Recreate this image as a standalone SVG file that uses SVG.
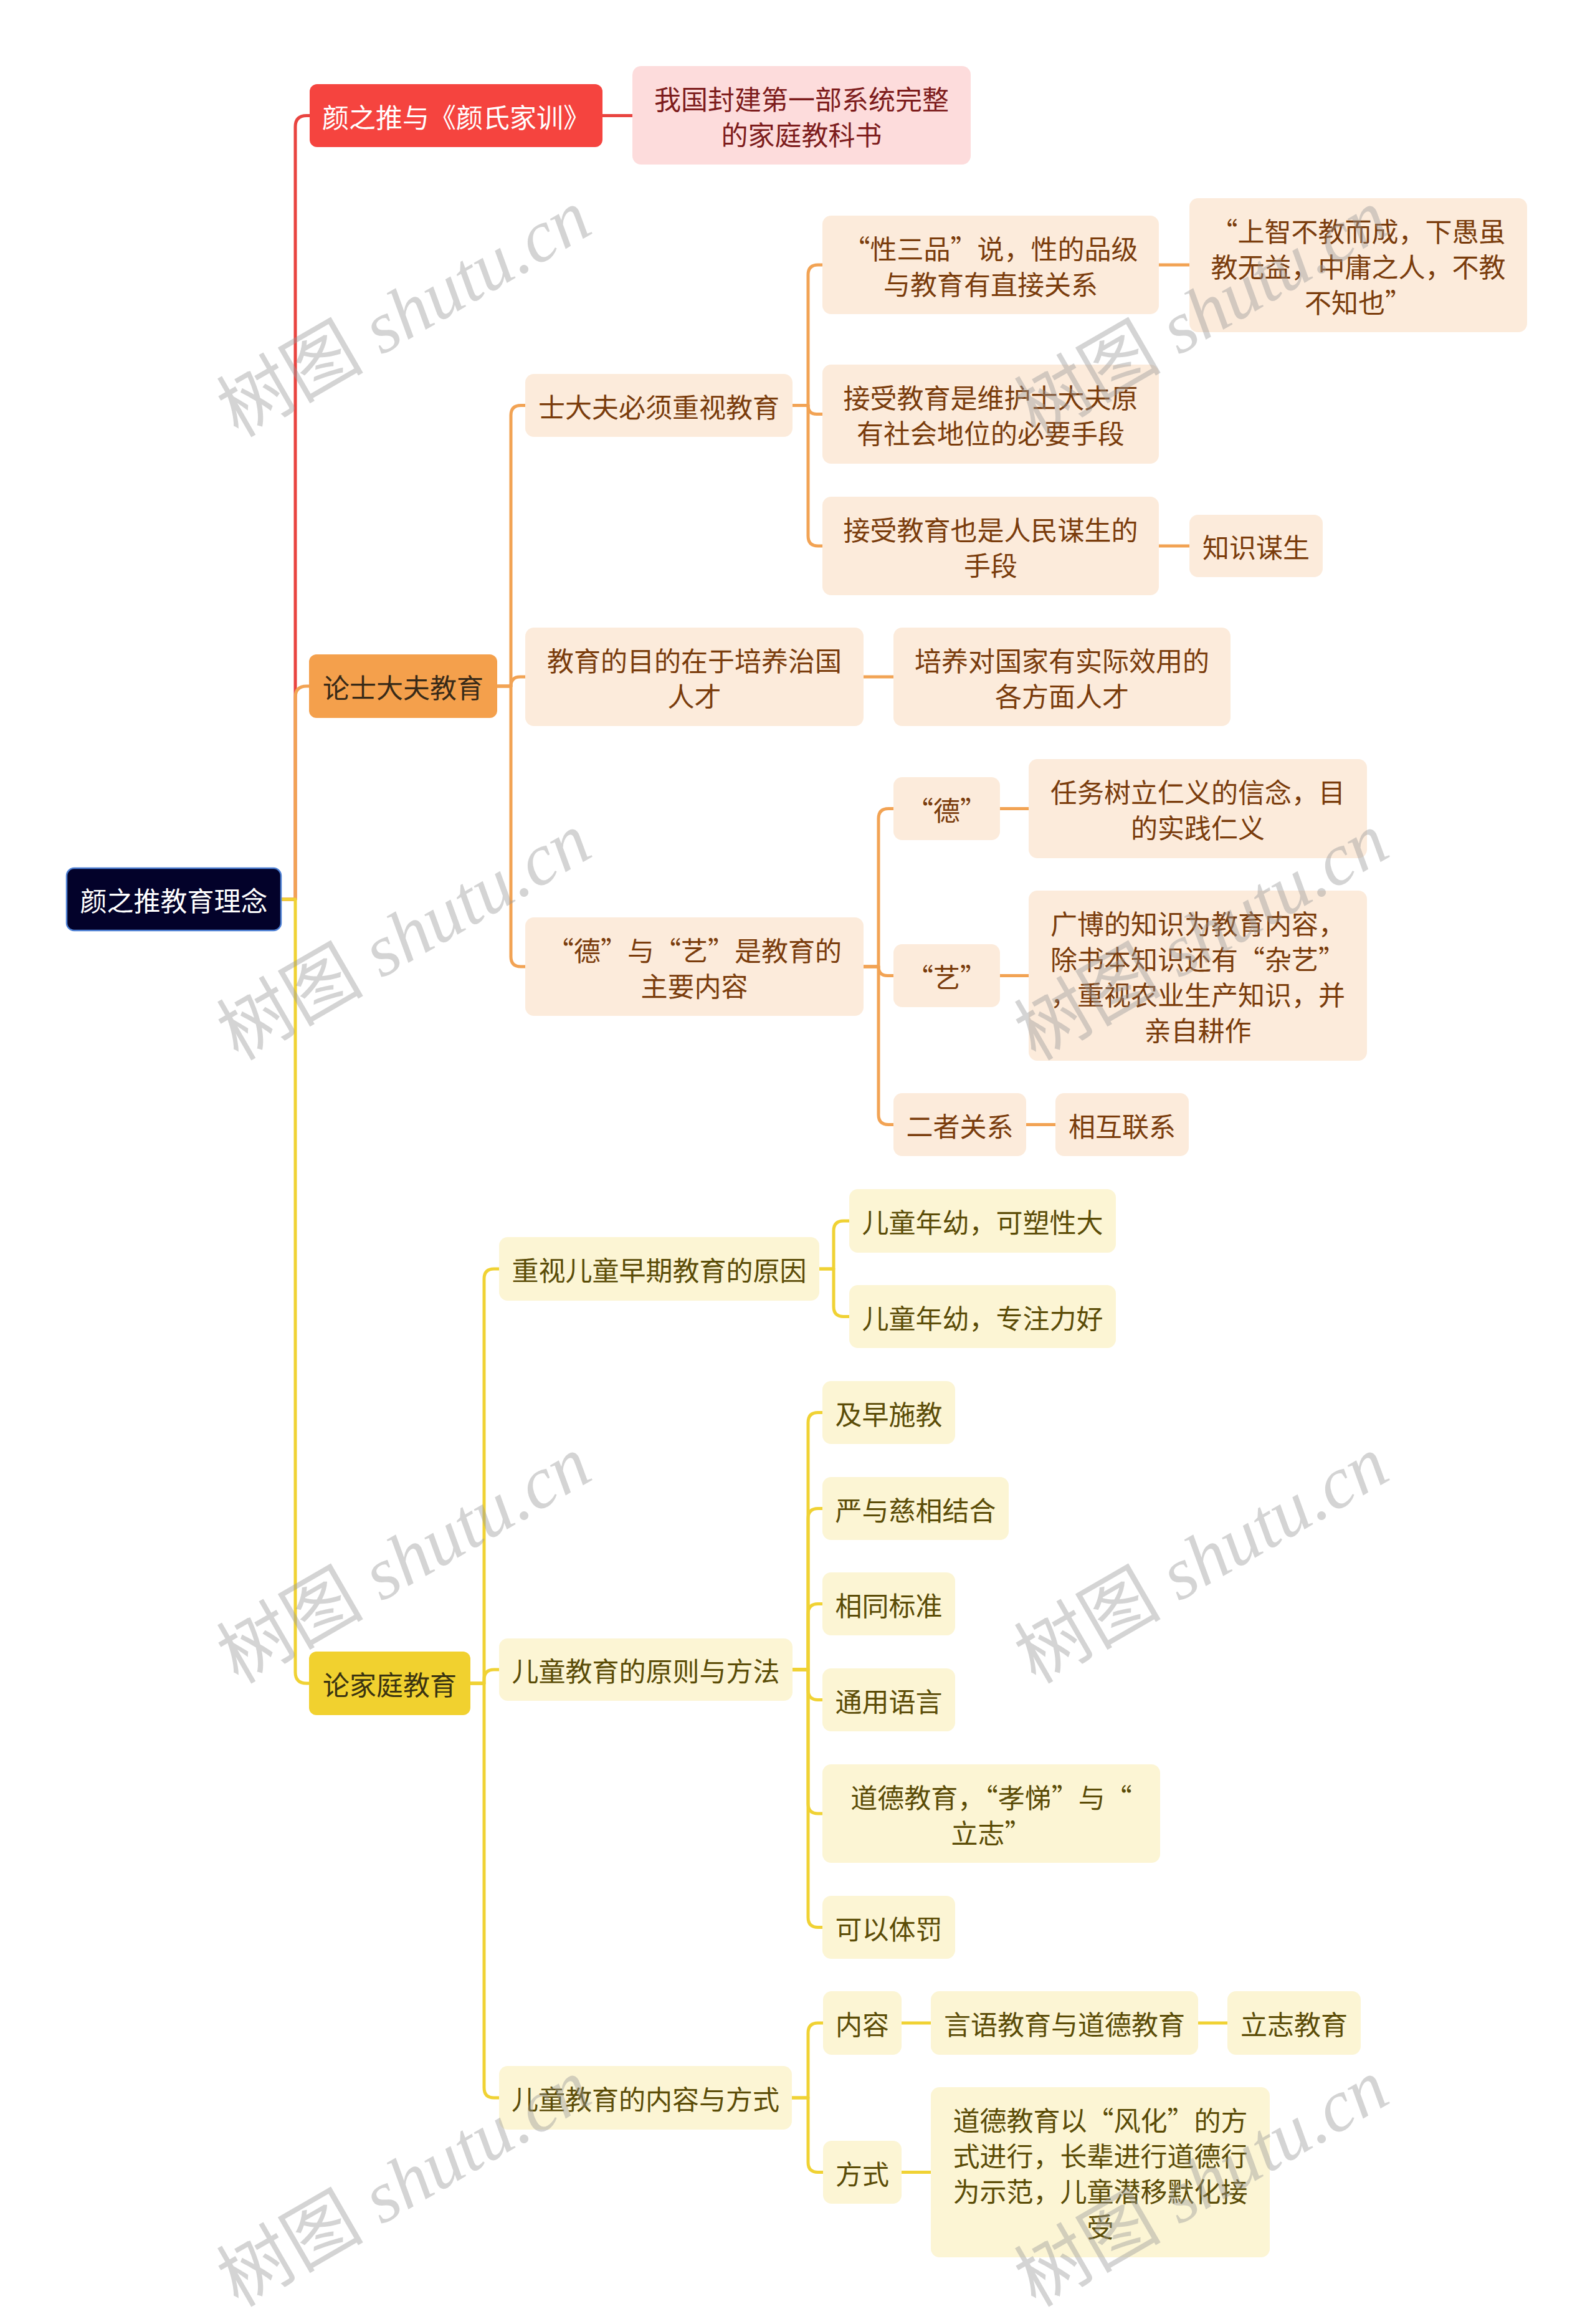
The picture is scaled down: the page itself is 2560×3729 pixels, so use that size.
<svg xmlns="http://www.w3.org/2000/svg" width="2560" height="3729" viewBox="0 0 2560 3729">
<style>
.t{font-family:'Noto Sans CJK SC','Noto Sans',sans-serif;font-size:43px;text-anchor:middle;dominant-baseline:central}
.ob{fill:#fcebdb}
.ot{fill:#7a3c0c}
.yb{fill:#fcf5d4}
.yt{fill:#5b4c07}
.c{fill:none;stroke-width:5;stroke-linejoin:round}
.cr{stroke:#e94440}
.co{stroke:#f2a354}
.cy{stroke:#f0d234}
.wm{font-size:118px;fill:#999999;fill-opacity:0.42}
.wz{font-family:'Noto Sans CJK SC',sans-serif}
.wl{font-family:'Liberation Serif',serif;font-style:italic}
</style>
<rect width="2560" height="3729" fill="#ffffff"/>
<g id="connectors">
<path class="c cr" d="M451 1443 H474 V203.5 Q474 185.5 492 185.5 H497"/>
<path class="c cr" d="M967 185.5 H1015"/>
<path class="c co" d="M451 1443 H474 V1119 Q474 1101 492 1101 H496"/>
<path class="c cy" d="M451 1443 H474 V2683 Q474 2701 492 2701 H496"/>
<path class="c co" d="M798 1101 H820 V666.5 Q820 650.5 836 650.5 H843"/>
<path class="c co" d="M798 1101 H820 Q820 1086 835 1086 H843"/>
<path class="c co" d="M798 1101 H820 V1535 Q820 1551 836 1551 H843"/>
<path class="c co" d="M1272 650.5 H1297 V441 Q1297 425 1313 425 H1320"/>
<path class="c co" d="M1272 650.5 H1297 Q1297 664.5 1311 664.5 H1320"/>
<path class="c co" d="M1272 650.5 H1297 V860 Q1297 876 1313 876 H1320"/>
<path class="c co" d="M1860 425 H1909"/>
<path class="c co" d="M1860 876 H1909"/>
<path class="c co" d="M1386 1086 H1434"/>
<path class="c co" d="M1386 1551 H1410 V1313.5 Q1410 1297.5 1426 1297.5 H1434"/>
<path class="c co" d="M1386 1551 H1410 Q1410 1565.5 1424.5 1565.5 H1434"/>
<path class="c co" d="M1386 1551 H1410 V1788.5 Q1410 1804.5 1426 1804.5 H1434"/>
<path class="c co" d="M1605 1297.5 H1651"/>
<path class="c co" d="M1605 1565.5 H1651"/>
<path class="c co" d="M1647 1804.5 H1694"/>
<path class="c cy" d="M755 2701 H777 V2052 Q777 2036 793 2036 H801"/>
<path class="c cy" d="M755 2701 H777 V2695 Q777 2679 793 2679 H801"/>
<path class="c cy" d="M755 2701 H777 V3350 Q777 3366 793 3366 H801"/>
<path class="c cy" d="M1315 2036 H1338 V1975 Q1338 1959 1354 1959 H1363"/>
<path class="c cy" d="M1315 2036 H1338 V2096.5 Q1338 2112.5 1354 2112.5 H1363"/>
<path class="c cy" d="M1272 2679 H1297 V2282.5 Q1297 2266.5 1313 2266.5 H1320"/>
<path class="c cy" d="M1272 2679 H1297 V2436.5 Q1297 2420.5 1313 2420.5 H1320"/>
<path class="c cy" d="M1272 2679 H1297 V2589.5 Q1297 2573.5 1313 2573.5 H1320"/>
<path class="c cy" d="M1272 2679 H1297 V2711.5 Q1297 2727.5 1313 2727.5 H1320"/>
<path class="c cy" d="M1272 2679 H1297 V2894 Q1297 2910 1313 2910 H1320"/>
<path class="c cy" d="M1272 2679 H1297 V3076.5 Q1297 3092.5 1313 3092.5 H1320"/>
<path class="c cy" d="M1271 3366 H1297 V3262 Q1297 3246 1313 3246 H1321"/>
<path class="c cy" d="M1271 3366 H1297 V3469.5 Q1297 3485.5 1313 3485.5 H1321"/>
<path class="c cy" d="M1447 3246 H1494"/>
<path class="c cy" d="M1923 3246 H1970"/>
<path class="c cy" d="M1447 3485.5 H1494"/>
</g>
<g id="root"><rect x="107" y="1393" width="344" height="100" rx="12" fill="#03022a" stroke="#4c7fd4" stroke-width="2.5"/><text class="t" x="279" y="1443" fill="#ffffff">颜之推教育理念</text></g>
<g id="n1"><rect x="497" y="135" width="470" height="101" rx="12" fill="#f5443f"/><text class="t" x="732" y="185.5" fill="#ffffff">颜之推与《颜氏家训》</text></g>
<g id="n1a"><rect x="1015" y="106" width="543" height="158" rx="14" fill="#fddcdc"/><text class="t" x="1286.5" y="156.5" fill="#7d1c1c">我国封建第一部系统完整</text><text class="t" x="1286.5" y="213.5" fill="#7d1c1c">的家庭教科书</text></g>
<g id="n2"><rect x="496" y="1050" width="302" height="102" rx="12" fill="#f4a04c"/><text class="t" x="647" y="1101" fill="#382a18">论士大夫教育</text></g>
<g id="n2a"><rect class="ob" x="843" y="600" width="429" height="101" rx="14"/><text class="t ot" x="1057.5" y="650.5">士大夫必须重视教育</text></g>
<g id="n2a1"><rect class="ob" x="1320" y="346" width="540" height="158" rx="14"/><text class="t ot" x="1590" y="396.5">“性三品”说，性的品级</text><text class="t ot" x="1590" y="453.5">与教育有直接关系</text></g>
<g id="n2a1a"><rect class="ob" x="1909" y="318" width="542" height="215" rx="14"/><text class="t ot" x="2180" y="368.5">“上智不教而成，下愚虽</text><text class="t ot" x="2180" y="425.5">教无益，中庸之人，不教</text><text class="t ot" x="2180" y="482.5">不知也”</text></g>
<g id="n2a2"><rect class="ob" x="1320" y="585" width="540" height="159" rx="14"/><text class="t ot" x="1590" y="636">接受教育是维护士大夫原</text><text class="t ot" x="1590" y="693">有社会地位的必要手段</text></g>
<g id="n2a3"><rect class="ob" x="1320" y="797" width="540" height="158" rx="14"/><text class="t ot" x="1590" y="847.5">接受教育也是人民谋生的</text><text class="t ot" x="1590" y="904.5">手段</text></g>
<g id="n2a3a"><rect class="ob" x="1909" y="826" width="214" height="100" rx="14"/><text class="t ot" x="2016" y="876">知识谋生</text></g>
<g id="n2b"><rect class="ob" x="843" y="1007" width="543" height="158" rx="14"/><text class="t ot" x="1114.5" y="1057.5">教育的目的在于培养治国</text><text class="t ot" x="1114.5" y="1114.5">人才</text></g>
<g id="n2b1"><rect class="ob" x="1434" y="1007" width="541" height="158" rx="14"/><text class="t ot" x="1704.5" y="1057.5">培养对国家有实际效用的</text><text class="t ot" x="1704.5" y="1114.5">各方面人才</text></g>
<g id="n2c"><rect class="ob" x="843" y="1472" width="543" height="158" rx="14"/><text class="t ot" x="1114.5" y="1522.5">“德”与“艺”是教育的</text><text class="t ot" x="1114.5" y="1579.5">主要内容</text></g>
<g id="n2c1"><rect class="ob" x="1434" y="1247" width="171" height="101" rx="14"/><text class="t ot" x="1519.5" y="1297.5">“德”</text></g>
<g id="n2c1a"><rect class="ob" x="1651" y="1218" width="543" height="159" rx="14"/><text class="t ot" x="1922.5" y="1269">任务树立仁义的信念，目</text><text class="t ot" x="1922.5" y="1326">的实践仁义</text></g>
<g id="n2c2"><rect class="ob" x="1434" y="1515" width="171" height="101" rx="14"/><text class="t ot" x="1519.5" y="1565.5">“艺”</text></g>
<g id="n2c2a"><rect class="ob" x="1651" y="1429" width="543" height="273" rx="14"/><text class="t ot" x="1922.5" y="1480">广博的知识为教育内容，</text><text class="t ot" x="1922.5" y="1537">除书本知识还有“杂艺”</text><text class="t ot" x="1922.5" y="1594">，重视农业生产知识，并</text><text class="t ot" x="1922.5" y="1651">亲自耕作</text></g>
<g id="n2c3"><rect class="ob" x="1434" y="1754" width="213" height="101" rx="14"/><text class="t ot" x="1540.5" y="1804.5">二者关系</text></g>
<g id="n2c3a"><rect class="ob" x="1694" y="1754" width="214" height="101" rx="14"/><text class="t ot" x="1801" y="1804.5">相互联系</text></g>
<g id="n3"><rect x="496" y="2650" width="259" height="102" rx="12" fill="#f1d12f"/><text class="t" x="625.5" y="2701" fill="#3a3311">论家庭教育</text></g>
<g id="n3a"><rect class="yb" x="801" y="1985" width="514" height="102" rx="14"/><text class="t yt" x="1058" y="2036">重视儿童早期教育的原因</text></g>
<g id="n3a1"><rect class="yb" x="1363" y="1908" width="428" height="102" rx="14"/><text class="t yt" x="1577" y="1959">儿童年幼，可塑性大</text></g>
<g id="n3a2"><rect class="yb" x="1363" y="2062" width="428" height="101" rx="14"/><text class="t yt" x="1577" y="2112.5">儿童年幼，专注力好</text></g>
<g id="n3b"><rect class="yb" x="801" y="2629" width="471" height="100" rx="14"/><text class="t yt" x="1036.5" y="2679">儿童教育的原则与方法</text></g>
<g id="n3b1"><rect class="yb" x="1320" y="2216" width="213" height="101" rx="14"/><text class="t yt" x="1426.5" y="2266.5">及早施教</text></g>
<g id="n3b2"><rect class="yb" x="1320" y="2370" width="299" height="101" rx="14"/><text class="t yt" x="1469.5" y="2420.5">严与慈相结合</text></g>
<g id="n3b3"><rect class="yb" x="1320" y="2523" width="213" height="101" rx="14"/><text class="t yt" x="1426.5" y="2573.5">相同标准</text></g>
<g id="n3b4"><rect class="yb" x="1320" y="2677" width="213" height="101" rx="14"/><text class="t yt" x="1426.5" y="2727.5">通用语言</text></g>
<g id="n3b5"><rect class="yb" x="1320" y="2831" width="542" height="158" rx="14"/><text class="t yt" x="1591" y="2881.5">道德教育，“孝悌”与“</text><text class="t yt" x="1591" y="2938.5">立志”</text></g>
<g id="n3b6"><rect class="yb" x="1320" y="3042" width="213" height="101" rx="14"/><text class="t yt" x="1426.5" y="3092.5">可以体罚</text></g>
<g id="n3c"><rect class="yb" x="801" y="3315" width="470" height="102" rx="14"/><text class="t yt" x="1036" y="3366">儿童教育的内容与方式</text></g>
<g id="n3c1"><rect class="yb" x="1321" y="3195" width="126" height="102" rx="14"/><text class="t yt" x="1384" y="3246">内容</text></g>
<g id="n3c1a"><rect class="yb" x="1494" y="3195" width="429" height="102" rx="14"/><text class="t yt" x="1708.5" y="3246">言语教育与道德教育</text></g>
<g id="n3c1a1"><rect class="yb" x="1970" y="3195" width="214" height="102" rx="14"/><text class="t yt" x="2077" y="3246">立志教育</text></g>
<g id="n3c2"><rect class="yb" x="1321" y="3435" width="126" height="101" rx="14"/><text class="t yt" x="1384" y="3485.5">方式</text></g>
<g id="n3c2a"><rect class="yb" x="1494" y="3349" width="544" height="273" rx="14"/><text class="t yt" x="1766" y="3400">道德教育以“风化”的方</text><text class="t yt" x="1766" y="3457">式进行，长辈进行道德行</text><text class="t yt" x="1766" y="3514">为示范，儿童潜移默化接</text><text class="t yt" x="1766" y="3571">受</text></g>
<g id="watermarks">
<text class="wm" transform="translate(382 703) rotate(-30)"><tspan class="wz">树图</tspan><tspan class="wl"> shutu.cn</tspan></text>
<text class="wm" transform="translate(382 1703) rotate(-30)"><tspan class="wz">树图</tspan><tspan class="wl"> shutu.cn</tspan></text>
<text class="wm" transform="translate(382 2703) rotate(-30)"><tspan class="wz">树图</tspan><tspan class="wl"> shutu.cn</tspan></text>
<text class="wm" transform="translate(382 3703) rotate(-30)"><tspan class="wz">树图</tspan><tspan class="wl"> shutu.cn</tspan></text>
<text class="wm" transform="translate(1662 703) rotate(-30)"><tspan class="wz">树图</tspan><tspan class="wl"> shutu.cn</tspan></text>
<text class="wm" transform="translate(1662 1703) rotate(-30)"><tspan class="wz">树图</tspan><tspan class="wl"> shutu.cn</tspan></text>
<text class="wm" transform="translate(1662 2703) rotate(-30)"><tspan class="wz">树图</tspan><tspan class="wl"> shutu.cn</tspan></text>
<text class="wm" transform="translate(1662 3703) rotate(-30)"><tspan class="wz">树图</tspan><tspan class="wl"> shutu.cn</tspan></text>
</g>
</svg>
